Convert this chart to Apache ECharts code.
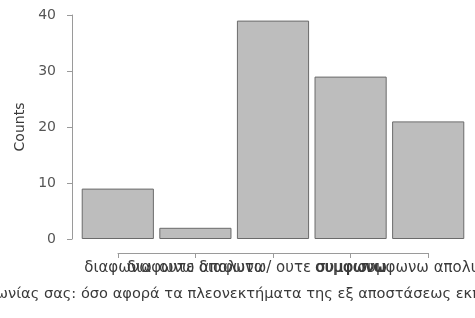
<!DOCTYPE html>
<html><head><meta charset="utf-8">
<script src="https://cdn.jsdelivr.net/npm/echarts@6/dist/echarts.min.js"></script>
<style>html,body{margin:0;padding:0;background:#fff}#c{width:475px;height:318px}</style>
</head><body><div id="c"></div>
<script>
const categories = ["διαφωνω", "διαφωνω απολυτα", "ουτε διαφωνω/ ουτε συμφωνω", "συμφωνω", "συμφωνω απολυτα"];
const counts = [9, 2, 39, 29, 21];
const yTicks = [0, 10, 20, 30, 40];
const yTitle = "Counts";
const xTitlePrefix = "Βαθμός συμφω";
const xTitle = "Βαθμός συμφωνίας σας: όσο αφορά τα πλεονεκτήματα της εξ αποστάσεως εκπαίδευσης";

const font = "DejaVu Sans, Verdana, sans-serif";
const titleSize = 14.6;
// measure the prefix so the visible part of the long title lines up like the reference
const ctx = document.createElement('canvas').getContext('2d');
ctx.font = titleSize + 'px ' + font;
const prefixW = ctx.measureText(xTitlePrefix).width;

const chart = echarts.init(document.getElementById('c'), null, {renderer: 'canvas'});
chart.setOption({
  animation: false,
  title: {text: xTitle, left: 8 - prefixW, top: 287, padding: 0,
          textStyle: {fontSize: titleSize, fontWeight: 'normal', color: '#3a3a3a', fontFamily: font}},
  grid: [
    {left: 79, right: 8, top: 15, bottom: 79, outerBoundsMode: 'none', containLabel: false},
    {left: 118, right: 47, top: 15, bottom: 79, outerBoundsMode: 'none', containLabel: false}
  ],
  xAxis: [
    {gridIndex: 0, type: 'category', data: categories, axisLine: {show: false}, axisTick: {show: false}, axisLabel: {show: false}},
    {gridIndex: 1, type: 'category', data: categories, boundaryGap: false, offset: 14,
     splitLine: {show: false},
     axisLine: {show: true, onZero: false, lineStyle: {color: '#9a9a9a', width: 1}},
     axisTick: {show: true, length: 5, interval: 0, lineStyle: {color: '#9a9a9a'}},
     axisLabel: {margin: 8, fontSize: 15, color: '#3a3a3a', fontFamily: font, interval: 0, hideOverlap: false}}
  ],
  yAxis: [
    {gridIndex: 0, type: 'value', min: yTicks[0], max: yTicks[yTicks.length - 1], interval: 10, offset: 7,
     splitLine: {show: false},
     axisLine: {show: true, lineStyle: {color: '#9a9a9a', width: 1}},
     axisTick: {show: true, length: 5, lineStyle: {color: '#9a9a9a'}},
     axisLabel: {margin: 16, fontSize: 14, color: '#555', fontFamily: font},
     name: yTitle, nameLocation: 'middle', nameGap: 44,
     nameTextStyle: {fontSize: 14, color: '#3a3a3a', fontFamily: font}},
    {gridIndex: 1, type: 'value', show: false}
  ],
  series: [{
    type: 'bar', xAxisIndex: 0, yAxisIndex: 0, data: counts,
    barCategoryGap: '7%',
    itemStyle: {color: '#bdbdbd', borderColor: '#6b6b6b', borderWidth: 1}
  }]
});
</script></body></html>
